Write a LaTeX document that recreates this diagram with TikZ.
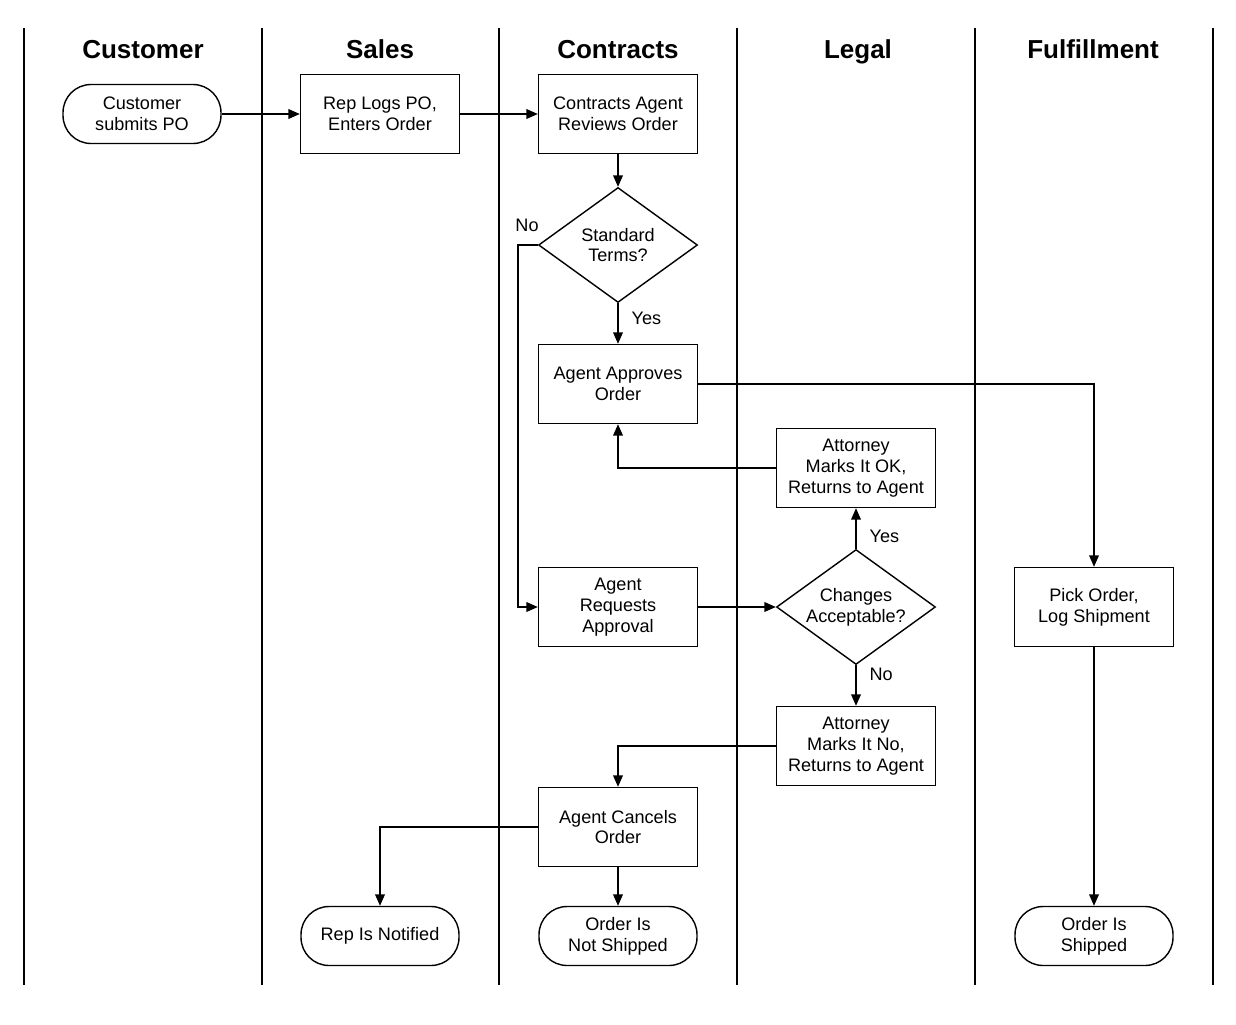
\documentclass[tikz,border=0pt]{standalone}
\usepackage{fontspec}
\setmainfont{Liberation Sans}
\usetikzlibrary{shapes.geometric,arrows.meta}

\begin{document}
\begin{tikzpicture}[x=0.02cm, y=-0.02cm, >={Triangle[length=6.5pt,width=5.5pt]},
    line width=0.8pt,
    lane/.style={anchor=base, font=\fontsize{14.8}{16}\selectfont\bfseries},
    task/.style={draw, rectangle, minimum width=3.18cm, minimum height=1.58cm,
        align=center, inner sep=0pt, font=\fontsize{10.3}{11.9}\selectfont},
    term/.style={draw, rectangle, rounded corners=0.56cm, minimum width=3.16cm,
        minimum height=1.18cm, align=center, inner sep=0pt, font=\fontsize{10.3}{11.9}\selectfont},
    choice/.style={draw, diamond, aspect=1.38, minimum width=3.18cm, minimum height=2.3cm,
        align=center, inner sep=0pt, font=\fontsize{10.3}{11.9}\selectfont},
    lbl/.style={font=\fontsize{10.3}{11.9}\selectfont}]

\useasboundingbox (0,0) rectangle (1236,1024);

% Swim lanes
\foreach \x in {24,262,499,737,975,1213}
{
    \draw (\x,28) -- (\x,985);
}

% Lane titles
\node[lane] (hcust) at (143,59) {Customer};
\node[lane] (hsales) at (380,59) {Sales};
\node[lane] (hcontr) at (618,59) {Contracts};
\node[lane] (hlegal) at (858,59) {Legal};
\node[lane] (hfulf) at (1093,59) {Fulfillment};

% Steps
\node[term] (cust) at (142,114) {Customer\\submits PO};
\node[task] (replog) at (380,114) {Rep Logs PO,\\Enters Order};
\node[task] (review) at (618,114) {Contracts Agent\\Reviews Order};
\node[choice] (terms) at (618,245) {Standard\\Terms?};
\node[task] (approve) at (618,384) {Agent Approves\\Order};
\node[task] (attok) at (856,468) {Attorney\\Marks It OK,\\Returns to Agent};
\node[task] (request) at (618,607) {Agent\\Requests\\Approval};
\node[choice] (changes) at (856,607) {Changes\\Acceptable?};
\node[task] (pick) at (1094,607) {Pick Order,\\Log Shipment};
\node[task] (attno) at (856,746) {Attorney\\Marks It No,\\Returns to Agent};
\node[task] (cancel) at (618,827) {Agent Cancels\\Order};
\node[term] (notified) at (380,936) {Rep Is Notified};
\node[term] (notship) at (618,936) {Order Is\\Not Shipped};
\node[term] (shipped) at (1094,936) {Order Is\\Shipped};

% Flow
\draw[->] (cust) -- (replog);
\draw[->] (replog) -- (review);
\draw[->] (review) -- (terms);
\draw[->] (terms) -- node[lbl, right, pos=0.38, xshift=4pt] {Yes} (approve);
\draw[->] (terms.west) -- ++(-20,0) |- (request.west);
\node[lbl] (tno) at (527,225) {No};
\draw[->] (approve.east) -| (pick.north);
\draw[->] (attok.west) -| (approve.south);
\draw[->] (request) -- (changes);
\draw[->] (changes) -- node[lbl, right, pos=0.3, xshift=4pt] {Yes} (attok);
\draw[->] (changes) -- node[lbl, right, pos=0.22, xshift=4pt] {No} (attno);
\draw[->] (attno.west) -| (cancel.north);
\draw[->] (cancel.west) -| (notified.north);
\draw[->] (cancel) -- (notship);
\draw[->] (pick) -- (shipped);

\end{tikzpicture}
\end{document}
